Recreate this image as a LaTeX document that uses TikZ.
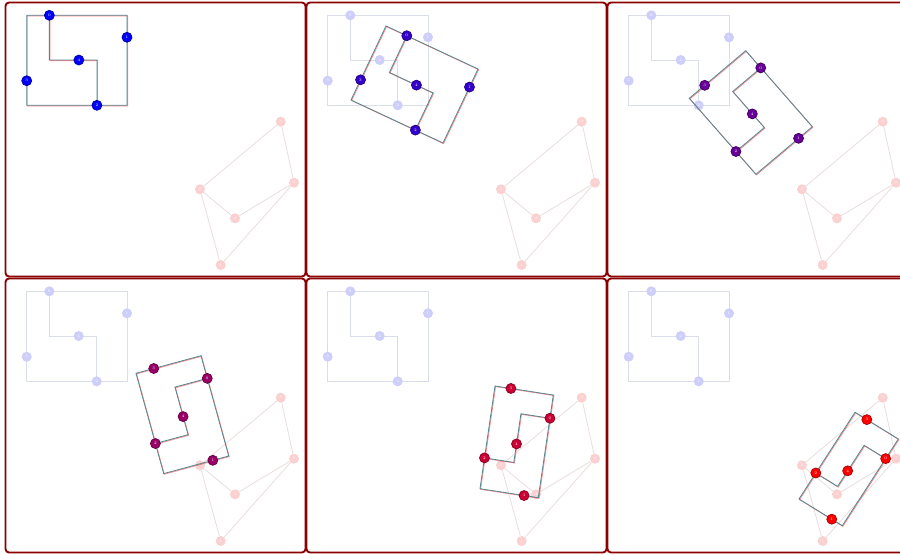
\documentclass[tikz,border=0pt]{standalone}
\usepackage{fontspec}
\usetikzlibrary{calc}
\definecolor{panelred}{RGB}{139,0,0}
\definecolor{edgeteal}{RGB}{85,135,145}
\definecolor{srcnode}{RGB}{206,206,250}
\definecolor{srcedge}{RGB}{218,222,234}
\definecolor{tgtnode}{RGB}{250,208,208}
\definecolor{tgtedge}{RGB}{234,222,222}
\tikzset{
  panelbox/.style={draw=panelred, line width=1.6pt, rounded corners=3pt, fill=white},
  tealedge/.style={draw=edgeteal, line width=0.7pt},
  rededge/.style={draw=red, line width=0.7pt, opacity=0.45},
  srcline/.style={draw=srcedge, line width=0.7pt},
  tgtline/.style={draw=tgtedge, line width=0.7pt},
  vbase/.style={circle, minimum size=0.3cm, inner sep=0pt, font=\fontsize{3.3}{4}\selectfont, text=white},
  srcvert/.style={vbase, fill=srcnode},
  tgtvert/.style={vbase, fill=tgtnode},
  actvert/.style={vbase, fill=#1, draw=#1!65!black, line width=0.6pt}
}
% #1 prefix, #2 TL, #3 TR, #4 BL, #5 colour
\newcommand\activegraph[5]{%
  \coordinate (#1TL) at #2;
  \coordinate (#1TR) at #3;
  \coordinate (#1BL) at #4;
  \coordinate (#1BR) at ($(#1TR)+(#1BL)-(#1TL)$);
  \coordinate (#1M0) at ($(#1TL)!0.497!(#1BL)$);
  \coordinate (#1M1) at ($(#1TR)!0.497!(#1BR)$);
  \coordinate (#1c0) at ($(#1TL)!0.226!(#1TR)$);
  \coordinate (#1c1) at ($(#1TR)!0.244!(#1BR)$);
  \coordinate (#1c2) at ($(#1BL)!0.70!(#1BR)$);
  \coordinate (#1c3) at ($(#1TL)!0.727!(#1BL)$);
  \coordinate (#1c4) at ($(#1M0)!0.52!(#1M1)$);
  \coordinate (#1I1) at ($(#1M0)!0.226!(#1M1)$);
  \coordinate (#1I2) at ($(#1M0)!0.70!(#1M1)$);
  \foreach \p in {c0,c1,c2,c3,c4,TL,TR,BL,BR,I1,I2}{%
    \coordinate (#1s\p) at ([shift={(0.6,0.6)}]#1\p);}
  \draw[rededge] (#1sc0) -- (#1sTR) -- (#1sc1);
  \draw[rededge] (#1sc1) -- (#1sBR) -- (#1sc2);
  \draw[rededge] (#1sc2) -- (#1sBL) -- (#1sc3);
  \draw[rededge] (#1sc3) -- (#1sTL) -- (#1sc0);
  \draw[rededge] (#1sc0) -- (#1sI1) -- (#1sc4);
  \draw[rededge] (#1sc4) -- (#1sI2) -- (#1sc2);
  \draw[tealedge] (#1c0) -- (#1TR) -- (#1c1);
  \draw[tealedge] (#1c1) -- (#1BR) -- (#1c2);
  \draw[tealedge] (#1c2) -- (#1BL) -- (#1c3);
  \draw[tealedge] (#1c3) -- (#1TL) -- (#1c0);
  \draw[tealedge] (#1c0) -- (#1I1) -- (#1c4);
  \draw[tealedge] (#1c4) -- (#1I2) -- (#1c2);
  \foreach \k in {0,...,4}{\node[actvert=#5] (#1n\k) at (#1c\k) {\k};}
}
% faint source graph, #1 prefix, #2 dx, #3 dy
\newcommand\srcgraph[3]{%
  \begin{scope}[shift={(#2,#3)}]
    \coordinate (#1TL) at (26.7,15.3);
    \coordinate (#1TR) at (127,15.3);
    \coordinate (#1BR) at (127,105.3);
    \coordinate (#1BL) at (26.7,105.3);
    \coordinate (#1I1) at (49.3,60);
    \coordinate (#1I2) at (96.7,60);
    \coordinate (#1c0) at (49.3,15.3);
    \coordinate (#1c1) at (127,37.3);
    \coordinate (#1c2) at (96.7,105.3);
    \coordinate (#1c3) at (26.7,80.7);
    \coordinate (#1c4) at (78.7,60);
  \end{scope}
  \draw[srcline] (#1c0) -- (#1TR) -- (#1c1);
  \draw[srcline] (#1c1) -- (#1BR) -- (#1c2);
  \draw[srcline] (#1c2) -- (#1BL) -- (#1c3);
  \draw[srcline] (#1c3) -- (#1TL) -- (#1c0);
  \draw[srcline] (#1c0) -- (#1I1) -- (#1c4);
  \draw[srcline] (#1c4) -- (#1I2) -- (#1c2);
  \foreach \k in {0,...,4}{\node[srcvert] (#1n\k) at (#1c\k) {\k};}
}
% faint target graph
\newcommand\tgtgraph[3]{%
  \begin{scope}[shift={(#2,#3)}]
    \node[tgtvert] (#1n0) at (294,182.7) {0};
    \node[tgtvert] (#1n1) at (220.7,265) {1};
    \node[tgtvert] (#1n2) at (200,189.3) {2};
    \node[tgtvert] (#1n3) at (280.7,121.7) {3};
    \node[tgtvert] (#1n4) at (235,218.3) {4};
  \end{scope}
  \begin{scope}[on background layer/.try]
  \end{scope}
  \draw[tgtline] (#1n0) -- (#1n1);
  \draw[tgtline] (#1n1) -- (#1n2);
  \draw[tgtline] (#1n2) -- (#1n3);
  \draw[tgtline] (#1n3) -- (#1n0);
  \draw[tgtline] (#1n0) -- (#1n4);
  \draw[tgtline] (#1n4) -- (#1n2);
}
\begin{document}
\begin{tikzpicture}[x=0.03cm,y=-0.03cm]
\useasboundingbox (0,0) rectangle (900,554);
\clip (0,0) rectangle (900,554);
\fill[white] (0,0) rectangle (900,554);
\foreach \c/\r in {0/0,1/0,2/0,0/1,1/1,2/1}{
  \draw[panelbox] ({5.5+301*\c},{2.5+276*\r}) rectangle ({305.5+301*\c},{276.5+276*\r});
}
% panel 1
\tgtgraph{TA}{0}{0}
\activegraph{A}{(26.7,15.3)}{(127,15.3)}{(26.7,105.3)}{blue}
% panel 2
\srcgraph{SB}{301}{0}
\tgtgraph{TB}{301}{0}
\activegraph{B}{(386,26)}{(478,69)}{(351,100)}{red!20!blue}
% panel 3
\srcgraph{SC}{602}{0}
\tgtgraph{TC}{602}{0}
\activegraph{C}{(745.7,50.7)}{(812.3,126.7)}{(689.3,98.3)}{red!40!blue}
% panel 4
\srcgraph{SD}{0}{276}
\tgtgraph{TD}{0}{276}
\activegraph{D}{(201,355.7)}{(228.7,456)}{(136,373.3)}{red!60!blue}
% panel 5
\srcgraph{SE}{301}{276}
\tgtgraph{TE}{301}{276}
\activegraph{E}{(553.3,395)}{(538.3,497.7)}{(495,386)}{red!80!blue}
% panel 6
\srcgraph{SF}{602}{276}
\tgtgraph{TF}{602}{276}
\activegraph{F}{(898.3,439)}{(842.3,525.7)}{(855,412.3)}{red}
\end{tikzpicture}
\end{document}
